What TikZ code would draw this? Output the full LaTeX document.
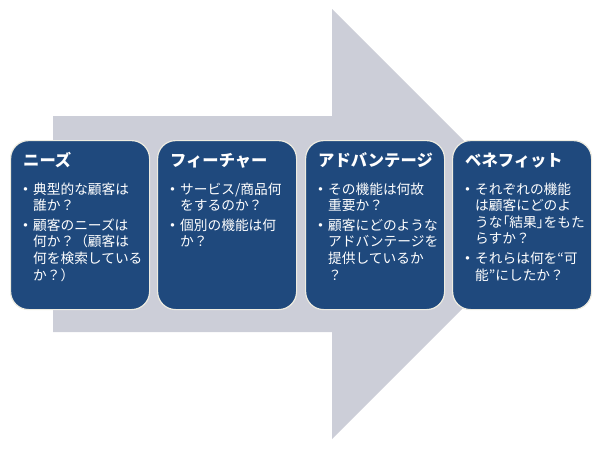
\documentclass[tikz,border=0pt]{standalone}
\usepackage{fontspec}
\usepackage{array}
\newfontfamily\cjk{Noto Sans CJK JP}
\newcommand\paltfeat{\addfontfeature{CharacterWidth=AlternateProportional}}
\newcommand\bul{\raisebox{1.6pt}{\normalfont\fontsize{13}{13}\selectfont\textbullet}}
\definecolor{arrowgray}{HTML}{CCCED8}
\definecolor{boxblue}{HTML}{1F497D}
\definecolor{boxedge}{HTML}{EEECE1}
\begin{document}
\begin{tikzpicture}[x=1pt,y=-1pt,
  boxstyle/.style={draw=boxedge, line width=1.2pt, fill=boxblue, rounded corners=18pt,
    minimum width=139pt, minimum height=169pt, anchor=north west, inner sep=0pt},
  titlestyle/.style={anchor=base west, text=white, inner sep=0pt,
    font=\cjk\bfseries\fontsize{16.3}{16.3}\selectfont},
  bodystyle/.style={anchor=base west, text=white, inner sep=0pt,
    font=\cjk\fontsize{13.7}{16.6}\selectfont}]
\useasboundingbox (0,0) rectangle (600,450);
\fill[arrowgray] (53,116) -- (332,116) -- (332,9) -- (547,224) -- (332,439)
  -- (332,332) -- (53,332) -- cycle;

\node[boxstyle] (b1) at (10,140) {};
\node[boxstyle] (b2) at (157,140) {};
\node[boxstyle] (b3) at (305,140) {};
\node[boxstyle] (b4) at (452,140) {};

\node[titlestyle] (h1) at (23,166) {ニーズ};
\node[titlestyle] (h2) at (170,166) {フィーチャー};
\node[titlestyle] (h3) at (318,166) {アドバンテージ};
\node[titlestyle] (h4) at (465,166) {ベネフィット};

\node[bodystyle] (t1) at (20.5,194) {\begin{tabular}[t]{@{}p{12.5pt}@{}l@{}}
\bul & 典型的な顧客は\\
 & 誰か？\\[3pt]
\bul & 顧客のニーズは\\
 & 何か？（顧客は\\
 & 何を検索している\\
 & か？）
\end{tabular}};

\node[bodystyle] (t2) at (167.5,194) {\begin{tabular}[t]{@{}p{12.5pt}@{}l@{}}
\bul & サービス/商品何\\
 & をするのか？\\[3pt]
\bul & 個別の機能は何\\
 & か？
\end{tabular}};

\node[bodystyle] (t3) at (315.5,194) {\begin{tabular}[t]{@{}p{12.5pt}@{}l@{}}
\bul & その機能は何故\\
 & 重要か？\\[3pt]
\bul & 顧客にどのような\\
 & アドバンテージを\\
 & 提供しているか\\
 & ？
\end{tabular}};

\node[bodystyle] (t4) at (462.5,194) {\begin{tabular}[t]{@{}p{12.5pt}@{}l@{}}
\bul & それぞれの機能\\
 & は顧客にどのよ\\
 & うな{\paltfeat 「}結果{\paltfeat 」}をもた\\
 & らすか？\\[3pt]
\bul & それらは何を{\paltfeat “}可\\
 & 能{\paltfeat ”}にしたか？
\end{tabular}};
\end{tikzpicture}
\end{document}
